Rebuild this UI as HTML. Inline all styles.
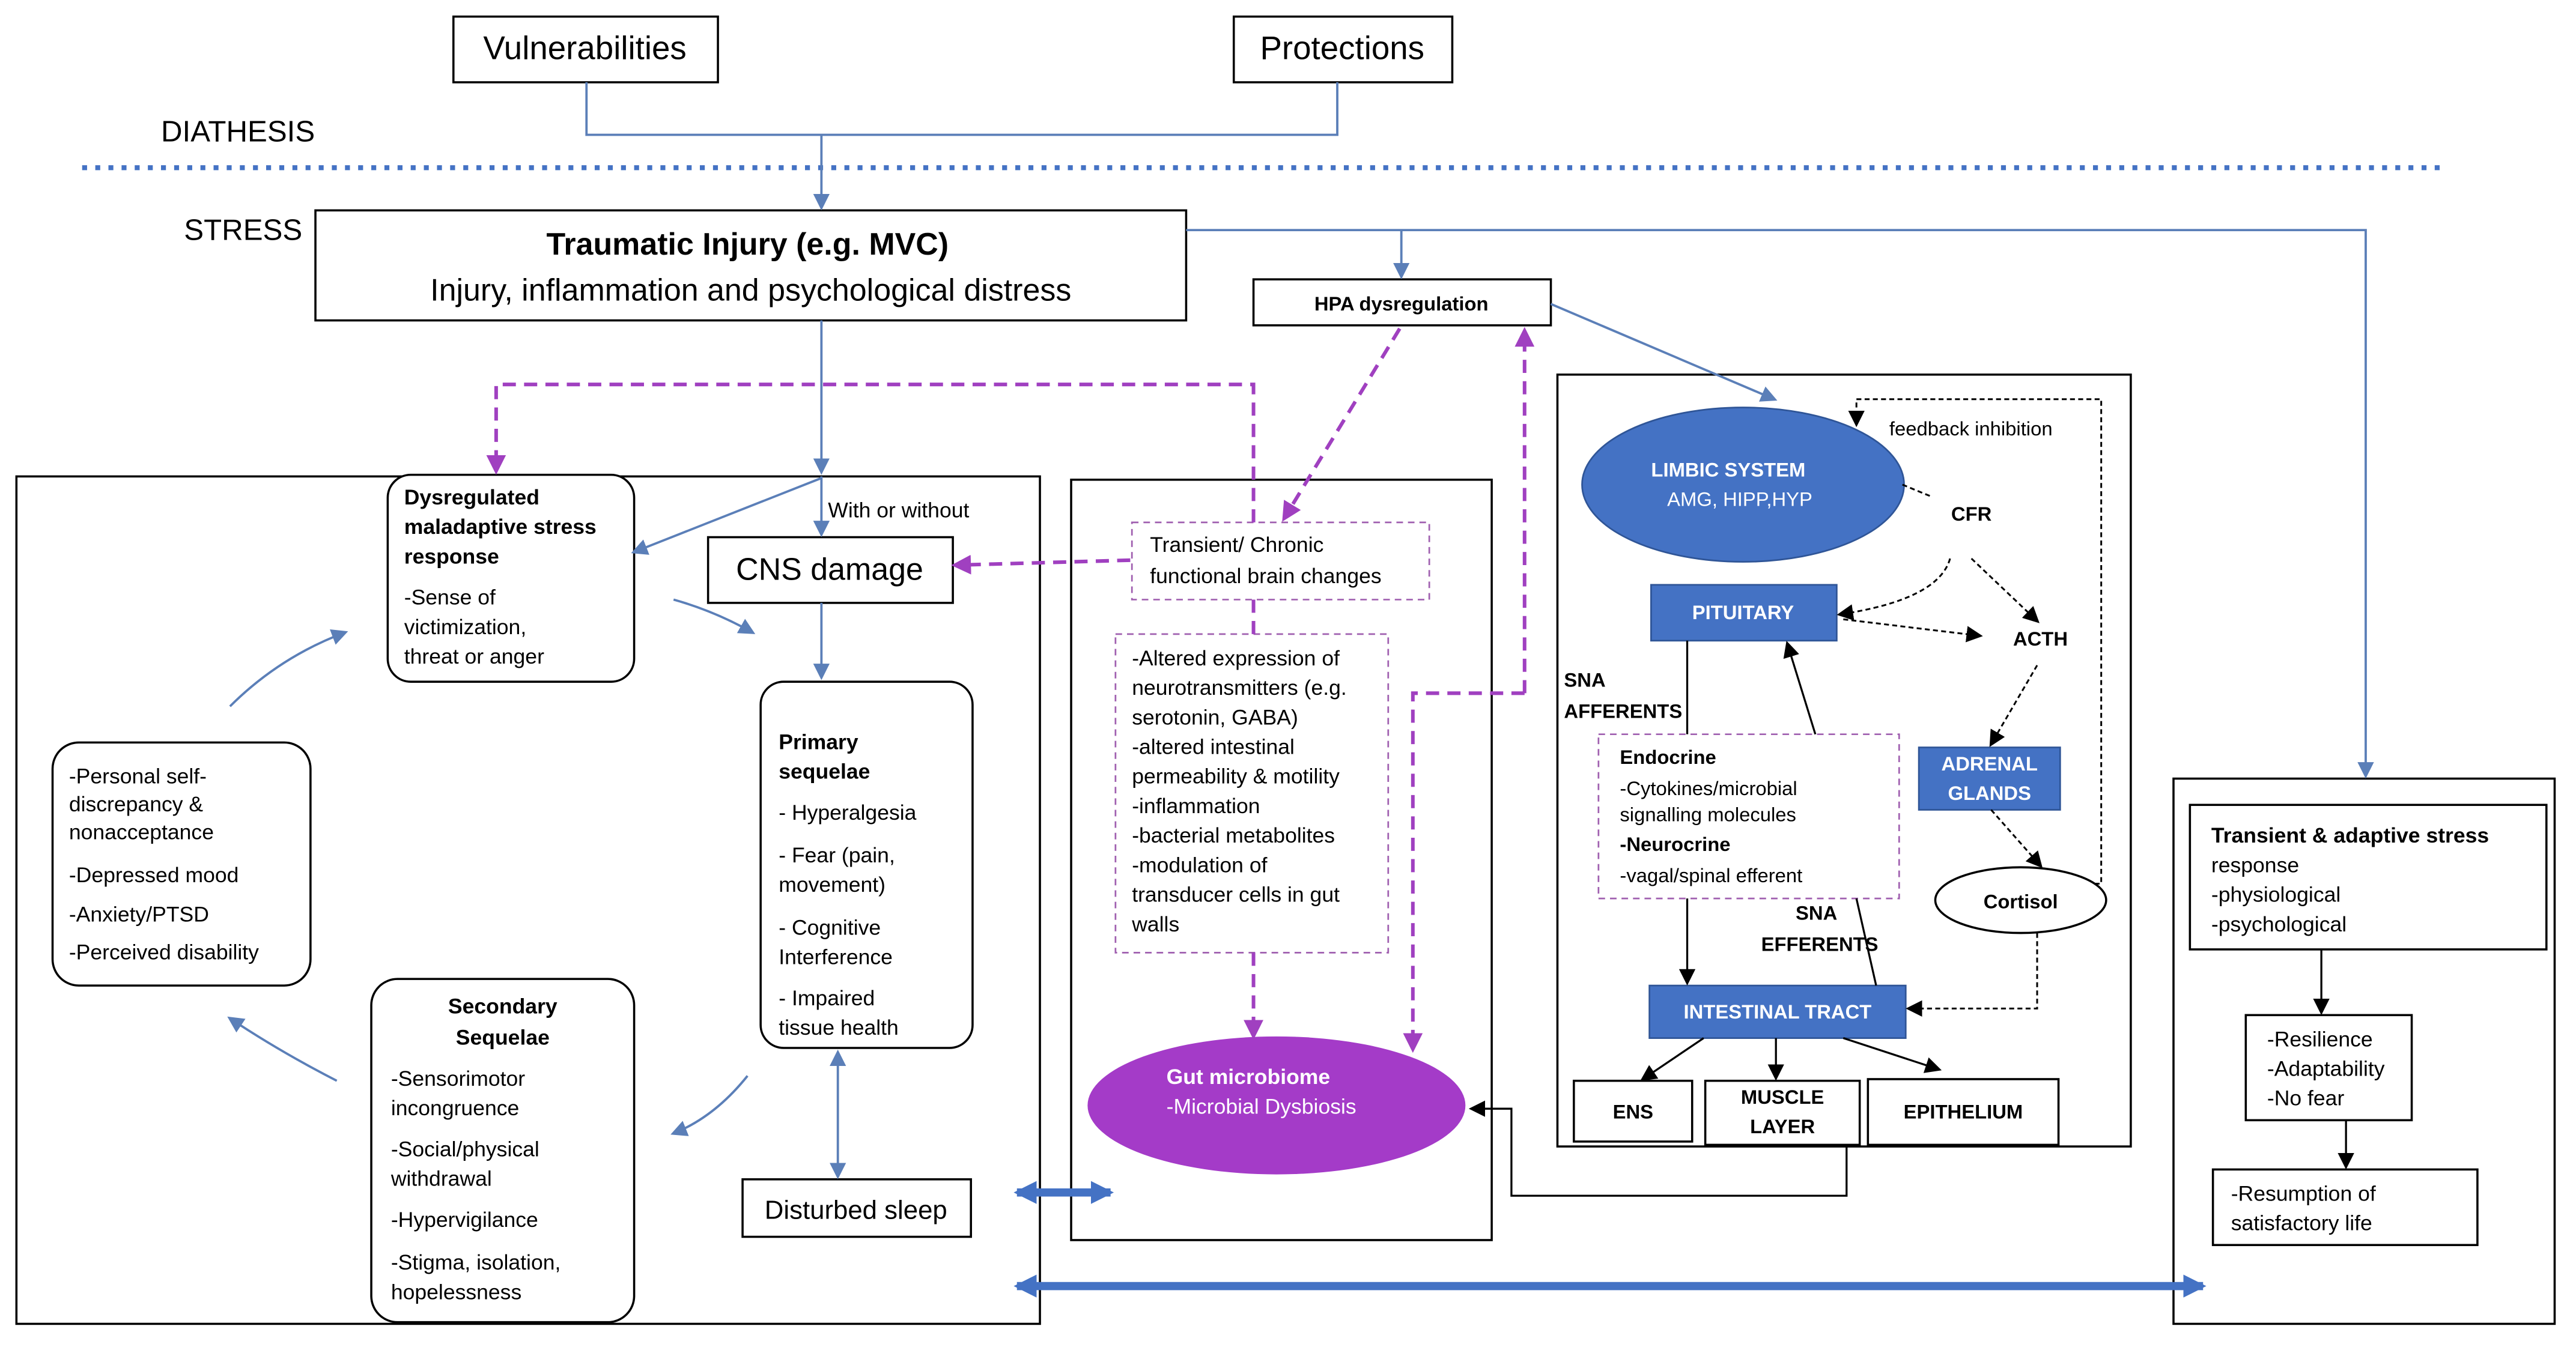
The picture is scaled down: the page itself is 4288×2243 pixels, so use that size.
<!DOCTYPE html>
<html><head><meta charset="utf-8"><style>
html,body{margin:0;padding:0;background:#fff;}
svg{display:block;}
text{font-family:"Liberation Sans",sans-serif;fill:#000;}
</style></head><body>
<svg width="4288" height="2243" viewBox="0 0 1568 820" xmlns="http://www.w3.org/2000/svg">
<defs>
<marker id="ab" markerWidth="10" markerHeight="10" refX="8" refY="5" orient="auto" markerUnits="userSpaceOnUse"><path d="M0,0 L10,5 L0,10 z" fill="#5b7fb8"/></marker>
<marker id="ak" markerWidth="10" markerHeight="10" refX="8" refY="5" orient="auto" markerUnits="userSpaceOnUse"><path d="M0,0 L10,5 L0,10 z" fill="#000"/></marker>
<marker id="ap" markerWidth="12" markerHeight="12" refX="9" refY="6" orient="auto" markerUnits="userSpaceOnUse"><path d="M0,0 L12,6 L0,12 z" fill="#a040c0"/></marker>
<marker id="at" markerWidth="14" markerHeight="14" refX="12" refY="7" orient="auto" markerUnits="userSpaceOnUse"><path d="M0,0 L14,7 L0,14 z" fill="#4472c4"/></marker>
<marker id="ats" markerWidth="14" markerHeight="14" refX="2" refY="7" orient="auto" markerUnits="userSpaceOnUse"><path d="M14,0 L0,7 L14,14 z" fill="#4472c4"/></marker>
<marker id="abs" markerWidth="10" markerHeight="10" refX="2" refY="5" orient="auto" markerUnits="userSpaceOnUse"><path d="M10,0 L0,5 L10,10 z" fill="#5b7fb8"/></marker>
</defs>
<g stroke="#000" stroke-width="1.3" fill="#fff">
<rect x="276" y="10" width="161" height="40"/>
<rect x="751" y="10" width="133" height="40"/>
<rect x="192" y="128" width="530" height="67"/>
<rect x="763" y="170" width="181" height="28"/>
<rect x="10" y="290" width="623" height="516"/>
<rect x="652" y="292" width="256" height="463"/>
<rect x="948" y="228" width="349" height="470"/>
<rect x="1323" y="474" width="232" height="332"/>
<rect x="1333" y="490" width="217" height="88"/>
<rect x="1367" y="618" width="101" height="64"/>
<rect x="1347" y="712" width="161" height="46"/>
<rect x="236" y="289" width="150" height="126" rx="14"/>
<rect x="431" y="327" width="149" height="40"/>
<rect x="463" y="415" width="129" height="223" rx="14"/>
<rect x="32" y="452" width="157" height="148" rx="16"/>
<rect x="226" y="596" width="160" height="209" rx="16"/>
<rect x="452" y="718" width="139" height="35"/>
<rect x="958" y="658" width="72" height="37"/>
<rect x="1038" y="658" width="94" height="39"/>
<rect x="1137" y="657" width="116" height="40"/>
<ellipse cx="1230" cy="548" rx="52" ry="20"/>
</g>
<!-- dashed boxes -->
<g stroke="#a060b0" stroke-width="1" stroke-dasharray="4,3" fill="#fff">
<rect x="689" y="318" width="181" height="47"/>
<rect x="679" y="386" width="166" height="194"/>
<rect x="973" y="447" width="183" height="100"/>
</g>
<!-- blue shapes -->
<ellipse cx="1061" cy="295" rx="98" ry="47" fill="#4472c4" stroke="#2f5597"/>
<rect x="1005" y="356" width="113" height="34" fill="#4472c4" stroke="#2f5597"/>
<rect x="1168" y="455" width="86" height="38" fill="#4472c4" stroke="#2f5597"/>
<rect x="1004" y="600" width="156" height="32" fill="#4472c4" stroke="#2f5597"/>
<ellipse cx="777" cy="673" rx="115" ry="42" fill="#a43bc8"/>
<!-- dotted line -->
<line x1="50" y1="102" x2="1488" y2="102" stroke="#4472c4" stroke-width="3" stroke-dasharray="3,5"/>
<!-- blue connectors -->
<g stroke="#5b7fb8" stroke-width="1.4" fill="none">
<polyline points="357,50 357,82 814,82 814,50"/>
<line x1="500" y1="82" x2="500" y2="126" marker-end="url(#ab)"/>
<line x1="500" y1="195" x2="500" y2="287" marker-end="url(#ab)"/>
<line x1="500" y1="290" x2="500" y2="325" marker-end="url(#ab)"/>
<line x1="500" y1="291" x2="386" y2="336" marker-end="url(#ab)"/>
<polyline points="722,140 1440,140 1440,472" marker-end="url(#ab)"/>
<line x1="853" y1="140" x2="853" y2="168" marker-end="url(#ab)"/>
<line x1="944" y1="185" x2="1080" y2="243" marker-end="url(#ab)"/>
<line x1="500" y1="367" x2="500" y2="412" marker-end="url(#ab)"/>
<line x1="510" y1="641" x2="510" y2="716" marker-start="url(#abs)" marker-end="url(#ab)"/>
<path d="M140,430 Q170,400 210,385" marker-end="url(#ab)"/>
<path d="M410,365 Q435,372 458,385" marker-end="url(#ab)"/>
<path d="M455,655 Q435,680 410,690" marker-end="url(#ab)"/>
<path d="M205,658 Q170,640 140,620" marker-end="url(#ab)"/>
</g>
<g stroke="#000" stroke-width="1.2" fill="none">
<polyline points="1124,698 1124,728 920,728 920,675 896,675" marker-end="url(#ak)"/>
<line x1="1413" y1="578" x2="1413" y2="616" marker-end="url(#ak)"/>
<line x1="1428" y1="682" x2="1428" y2="710" marker-end="url(#ak)"/>
<line x1="1027" y1="390" x2="1027" y2="447"/>
<line x1="1027" y1="547" x2="1027" y2="598" marker-end="url(#ak)"/>
<line x1="1105" y1="447" x2="1088" y2="392" marker-end="url(#ak)"/>
<line x1="1130" y1="547" x2="1142" y2="600"/>
<line x1="1037" y1="632" x2="1000" y2="657" marker-end="url(#ak)"/>
<line x1="1081" y1="632" x2="1081" y2="656" marker-end="url(#ak)"/>
<line x1="1122" y1="632" x2="1180" y2="651" marker-end="url(#ak)"/>
</g>
<g stroke="#000" stroke-width="1.1" fill="none" stroke-dasharray="3,2">
<path d="M1158,295 Q1170,300 1175,302"/>
<path d="M1187,340 Q1180,365 1120,374" marker-end="url(#ak)"/>
<line x1="1122" y1="377" x2="1205" y2="387" marker-end="url(#ak)"/>
<line x1="1200" y1="340" x2="1240" y2="378" marker-end="url(#ak)"/>
<line x1="1240" y1="405" x2="1212" y2="453" marker-end="url(#ak)"/>
<line x1="1212" y1="493" x2="1242" y2="527" marker-end="url(#ak)"/>
<polyline points="1240,568 1240,614 1162,614" marker-end="url(#ak)"/>
<polyline points="1275,538 1279,538 1279,243 1130,243 1130,258" marker-end="url(#ak)"/>
</g>
<!-- purple dashed -->
<g stroke="#a040c0" stroke-width="2.2" fill="none" stroke-dasharray="8,5">
<polyline points="763,318 763,234 302,234 302,286" marker-end="url(#ap)"/>
<line x1="852" y1="200" x2="782" y2="315" marker-end="url(#ap)"/>
<line x1="688" y1="341" x2="582" y2="344" marker-end="url(#ap)"/>
<line x1="763" y1="365" x2="763" y2="386"/>
<line x1="763" y1="580" x2="763" y2="630" marker-end="url(#ap)"/>
<polyline points="928,422 860,422 860,638" marker-end="url(#ap)"/>
<line x1="928" y1="422" x2="928" y2="202" marker-end="url(#ap)"/>
</g>
<!-- thick double arrows -->
<line x1="619" y1="726" x2="676" y2="726" stroke="#4472c4" stroke-width="5" marker-start="url(#ats)" marker-end="url(#at)"/>
<line x1="619" y1="783" x2="1341" y2="783" stroke="#4472c4" stroke-width="5" marker-start="url(#ats)" marker-end="url(#at)"/>
<!-- text -->
<g font-size="20">
<text x="356" y="36" text-anchor="middle">Vulnerabilities</text>
<text x="817" y="36" text-anchor="middle">Protections</text>
</g>
<text x="98" y="86" font-size="18">DIATHESIS</text>
<text x="112" y="146" font-size="18">STRESS</text>
<text x="455" y="155" font-size="19" font-weight="bold" text-anchor="middle">Traumatic Injury (e.g. MVC)</text>
<text x="457" y="183" font-size="19" text-anchor="middle">Injury, inflammation and psychological distress</text>
<text x="853" y="189" font-size="12" font-weight="bold" text-anchor="middle">HPA dysregulation</text>
<text x="504" y="315" font-size="13">With or without</text>
<text x="505" y="353" font-size="19" text-anchor="middle">CNS damage</text>
<g font-size="13">
<text x="246" y="307" font-weight="bold">Dysregulated</text>
<text x="246" y="325" font-weight="bold">maladaptive stress</text>
<text x="246" y="343" font-weight="bold">response</text>
<text x="246" y="368">-Sense of</text>
<text x="246" y="386">victimization,</text>
<text x="246" y="404">threat or anger</text>
<text x="474" y="456" font-weight="bold">Primary</text>
<text x="474" y="474" font-weight="bold">sequelae</text>
<text x="474" y="499">- Hyperalgesia</text>
<text x="474" y="525">- Fear (pain,</text>
<text x="474" y="543">movement)</text>
<text x="474" y="569">- Cognitive</text>
<text x="474" y="587">Interference</text>
<text x="474" y="612">- Impaired</text>
<text x="474" y="630">tissue health</text>
<text x="42" y="477">-Personal self-</text>
<text x="42" y="494">discrepancy &amp;</text>
<text x="42" y="511">nonacceptance</text>
<text x="42" y="537">-Depressed mood</text>
<text x="42" y="561">-Anxiety/PTSD</text>
<text x="42" y="584">-Perceived disability</text>
<text x="306" y="617" font-weight="bold" text-anchor="middle">Secondary</text>
<text x="306" y="636" font-weight="bold" text-anchor="middle">Sequelae</text>
<text x="238" y="661">-Sensorimotor</text>
<text x="238" y="679">incongruence</text>
<text x="238" y="704">-Social/physical</text>
<text x="238" y="722">withdrawal</text>
<text x="238" y="747">-Hypervigilance</text>
<text x="238" y="773">-Stigma, isolation,</text>
<text x="238" y="791">hopelessness</text>
</g>
<text x="521" y="742" font-size="16" text-anchor="middle">Disturbed sleep</text>
<g font-size="13">
<text x="700" y="336">Transient/ Chronic</text>
<text x="700" y="355">functional brain changes</text>
<text x="689" y="405">-Altered expression of</text>
<text x="689" y="423">neurotransmitters (e.g.</text>
<text x="689" y="441">serotonin, GABA)</text>
<text x="689" y="459">-altered intestinal</text>
<text x="689" y="477">permeability &amp; motility</text>
<text x="689" y="495">-inflammation</text>
<text x="689" y="513">-bacterial metabolites</text>
<text x="689" y="531">-modulation of</text>
<text x="689" y="549">transducer cells in gut</text>
<text x="689" y="567">walls</text>
</g>
<text x="710" y="660" font-size="13" font-weight="bold" fill="#fff" style="fill:#fff">Gut microbiome</text>
<text x="710" y="678" font-size="13" style="fill:#fff">-Microbial Dysbiosis</text>
<g font-size="12" font-weight="bold">
<text x="1052" y="290" text-anchor="middle" style="fill:#fff">LIMBIC SYSTEM</text>
<text x="1059" y="308" text-anchor="middle" style="fill:#fff" font-weight="normal">AMG, HIPP,HYP</text>
<text x="1061" y="377" text-anchor="middle" style="fill:#fff">PITUITARY</text>
<text x="1211" y="469" text-anchor="middle" style="fill:#fff">ADRENAL</text>
<text x="1211" y="487" text-anchor="middle" style="fill:#fff">GLANDS</text>
<text x="1082" y="620" text-anchor="middle" style="fill:#fff">INTESTINAL TRACT</text>
<text x="1200" y="317" text-anchor="middle">CFR</text>
<text x="1242" y="393" text-anchor="middle">ACTH</text>
<text x="952" y="418">SNA</text>
<text x="952" y="437">AFFERENTS</text>
<text x="1093" y="560">SNA</text>
<text x="1072" y="579">EFFERENTS</text>
<text x="1230" y="553" text-anchor="middle">Cortisol</text>
<text x="994" y="681" text-anchor="middle">ENS</text>
<text x="1085" y="672" text-anchor="middle">MUSCLE</text>
<text x="1085" y="690" text-anchor="middle">LAYER</text>
<text x="1195" y="681" text-anchor="middle">EPITHELIUM</text>
</g>
<text x="1150" y="265" font-size="12">feedback inhibition</text>
<g font-size="12">
<text x="986" y="465" font-weight="bold">Endocrine</text>
<text x="986" y="484">-Cytokines/microbial</text>
<text x="986" y="500">signalling molecules</text>
<text x="986" y="518" font-weight="bold">-Neurocrine</text>
<text x="986" y="537">-vagal/spinal efferent</text>
</g>
<g font-size="13">
<text x="1346" y="513" font-weight="bold">Transient &amp; adaptive stress</text>
<text x="1346" y="531">response</text>
<text x="1346" y="549">-physiological</text>
<text x="1346" y="567">-psychological</text>
<text x="1380" y="637">-Resilience</text>
<text x="1380" y="655">-Adaptability</text>
<text x="1380" y="673">-No fear</text>
<text x="1358" y="731">-Resumption of</text>
<text x="1358" y="749">satisfactory life</text>
</g>
</svg>
</body></html>
